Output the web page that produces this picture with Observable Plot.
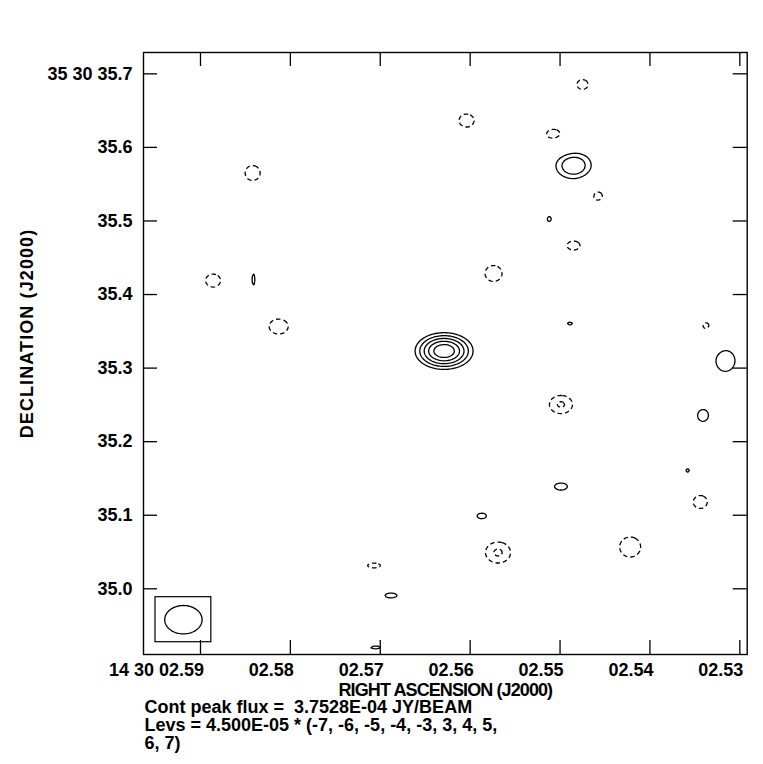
<!DOCTYPE html>
<html><head><meta charset="utf-8">
<script src="https://cdn.jsdelivr.net/npm/d3@7"></script>
<script src="https://cdn.jsdelivr.net/npm/@observablehq/plot@0.6"></script>
<style>
body{margin:0;background:#fff;}
#chart svg{display:block;}
</style></head><body><div id="chart"></div>
<script>
// ---- axis ticks ----
const raTicks = [2.59, 2.58, 2.57, 2.56, 2.55, 2.54, 2.53];
const raTickLabels = ["14 30 02.59", "02.58", "02.57", "02.56", "02.55", "02.54", "02.53"];
const decTicks = [35.0, 35.1, 35.2, 35.3, 35.4, 35.5, 35.6, 35.7];
const decTickLabels = ["35.0", "35.1", "35.2", "35.3", "35.4", "35.5", "35.6", "35 30 35.7"];
const raDomain = [2.59634, 2.52918];   // RA seconds (14h30m), decreasing to the right
const decDomain = [34.9107, 35.7290];  // Dec arcsec (+35d30')
const xTitle = "RIGHT ASCENSION (J2000)";
const yTitle = "DECLINATION (J2000)";

// ---- contour levels ----
const peakFlux = 3.7528e-4;
const levelStep = 4.5e-5;
const levels = [-7, -6, -5, -4, -3, 3, 4, 5, 6, 7];

// ---- emission components (peak in units of levelStep, widths in mas) ----
const srcRa     = [2.5629, 2.5485, 2.5316, 2.5341, 2.5337, 2.5475, 2.5507, 2.5604, 2.5458, 2.5512, 2.5485, 2.5574, 2.5842, 2.5886, 2.5841, 2.5813, 2.5489, 2.5499, 2.5499, 2.5587, 2.5569, 2.5422, 2.5344, 2.5358, 2.5707, 2.5688, 2.5705];
const srcDec    = [35.3232, 35.5754, 35.3099, 35.2355, 35.3565, 35.6855, 35.6175, 35.6365, 35.5346, 35.5026, 35.4666, 35.4286, 35.5652, 35.4190, 35.4204, 35.3565, 35.3606, 35.2505, 35.1390, 35.0989, 35.0493, 35.0568, 35.1180, 35.1608, 35.0317, 34.9909, 34.9202];
const srcPeak   = [7.9, 5.0, 3.5, 3.5, -3.5, -3.5, -3.5, -3.5, -3.5, 3.5, -3.5, -3.5, -3.5, -3.5, 3.5, -3.5, 3.5, -4.13, 3.5, 3.5, -4.15, -3.5, -3.5, 3.5, -3.5, 3.5, 3.5];
const srcSigRa  = [28.3, 23.8, 23.3, 13.0, 13.5, 13.5, 19.6, 18.4, 12.2, 4.9, 15.9, 20.8, 18.4, 18.4, 3.7, 23.3, 6.1, 19.6, 15.9, 12.2, 21.1, 25.7, 17.1, 4.5, 15.9, 14.7, 12.2];
const srcSigDec = [17.9, 17.7, 25.7, 14.0, 13.5, 12.2, 13.5, 15.9, 12.2, 6.1, 11.0, 19.6, 18.4, 15.9, 14.7, 18.4, 3.5, 15.4, 8.6, 7.3, 17.7, 24.5, 15.9, 4.5, 6.1, 6.1, 3.5];

// ---- beam ----
const beamRa = 2.5919, beamDec = 34.9580;
const beamSemiMajor = 25.4, beamSemiMinor = 19.3; // mas, major E-W
const beamBoxHalf = [37.9, 30.6]; // mas

const cosDec = Math.cos((35 + 30 / 60) * Math.PI / 180);
const masPerSec = 15000 * cosDec;

function field(x, y) {
  let s = 0;
  for (let i = 0; i < srcRa.length; i++) {
    const dx = (x - srcRa[i]) * masPerSec / srcSigRa[i];
    const dy = (y - srcDec[i]) * 1000 / srcSigDec[i];
    const q = dx * dx + dy * dy;
    if (q < 80) s += srcPeak[i] * Math.exp(-q / 2);
  }
  return s * levelStep;
}
const posThresholds = levels.filter(l => l > 0).map(l => l * levelStep);
const negThresholds = levels.filter(l => l < 0).map(l => -l * levelStep);

const beamPts = d3.range(0, 73).map(k => {
  const t = k / 72 * 2 * Math.PI;
  return {x: beamRa + beamSemiMajor * Math.cos(t) / masPerSec, y: beamDec + beamSemiMinor * Math.sin(t) / 1000};
});
const beamBox = [{
  x1: beamRa + beamBoxHalf[0] / masPerSec, x2: beamRa - beamBoxHalf[0] / masPerSec,
  y1: beamDec - beamBoxHalf[1] / 1000, y2: beamDec + beamBoxHalf[1] / 1000
}];

function fmtE(v, digits) {
  const [m, e] = v.toExponential(digits).split("e");
  const n = +e;
  return m + "E" + (n < 0 ? "-" : "+") + String(Math.abs(n)).padStart(2, "0");
}
const caption = `Cont peak flux =  ${fmtE(peakFlux, 4)} JY/BEAM\nLevs = ${fmtE(levelStep, 3)} * (${levels.slice(0, 8).join(", ")},\n${levels.slice(8).join(", ")})`;

const W = 763, H = 764;
const mL = 143, mR = 16.3, mT = 52, mB = 110;
const plotW = W - mL - mR, plotH = H - mT - mB;
const tickLen = 14;
const font = "'Liberation Sans', Arial, Helvetica, sans-serif";
const txt = {fontFamily: font, fontWeight: "bold", fontSize: 18, fill: "#000"};

const chart = Plot.plot({
  width: W, height: H,
  marginLeft: mL, marginRight: mR, marginTop: mT, marginBottom: mB,
  x: {domain: raDomain, axis: null},
  y: {domain: decDomain, axis: null},
  style: {fontFamily: font, background: "#fff", color: "#000"},
  marks: [
    Plot.contour({value: (x, y) => field(x, y), x1: raDomain[0], x2: raDomain[1], y1: decDomain[0], y2: decDomain[1],
      thresholds: posThresholds, pixelSize: 1.5, stroke: "#000", strokeWidth: 1.3, fill: "none"}),
    Plot.contour({value: (x, y) => -field(x, y), x1: raDomain[0], x2: raDomain[1], y1: decDomain[0], y2: decDomain[1],
      thresholds: negThresholds, pixelSize: 1.5, stroke: "#000", strokeWidth: 1.3, fill: "none", strokeDasharray: "4.5,3"}),
    Plot.rect(beamBox, {x1: "x1", x2: "x2", y1: "y1", y2: "y2", fill: "none", stroke: "#000", strokeWidth: 1.2}),
    Plot.line(beamPts, {x: "x", y: "y", stroke: "#000", strokeWidth: 1.3}),
    Plot.ruleX(raTicks, {insetTop: plotH - tickLen, stroke: "#000", strokeWidth: 1.3}),
    Plot.ruleX(raTicks, {insetBottom: plotH - tickLen, stroke: "#000", strokeWidth: 1.3}),
    Plot.ruleY(decTicks, {insetRight: plotW - tickLen, stroke: "#000", strokeWidth: 1.3}),
    Plot.ruleY(decTicks, {insetLeft: plotW - tickLen, stroke: "#000", strokeWidth: 1.3}),
    Plot.frame({stroke: "#000", strokeWidth: 1.4}),
    Plot.text(raTicks, {x: d => d, text: (d, i) => raTickLabels[i], frameAnchor: "bottom", textAnchor: "end", dx: 3.5, dy: 21, ...txt}),
    Plot.text(decTicks, {y: d => d, text: (d, i) => decTickLabels[i], frameAnchor: "left", textAnchor: "end", dx: -11, ...txt}),
    Plot.text([xTitle], {frameAnchor: "bottom", textAnchor: "middle", dy: 41, ...txt}),
    Plot.text([yTitle], {frameAnchor: "left", textAnchor: "middle", rotate: -90, dx: -(mL - 26.5), dy: -20, ...txt}),
    Plot.text([caption], {frameAnchor: "bottom-left", textAnchor: "start", lineAnchor: "top", lineHeight: 1, dx: 1, dy: 46, ...txt})
  ]
});
d3.select(chart).selectAll("text").filter(function () { return this.textContent === xTitle; }).style("letter-spacing", "-0.9px");
d3.select(chart).selectAll("text").filter(function () { return this.textContent === yTitle; }).style("letter-spacing", "1.1px");
document.getElementById("chart").appendChild(chart);
</script>
</body></html>
